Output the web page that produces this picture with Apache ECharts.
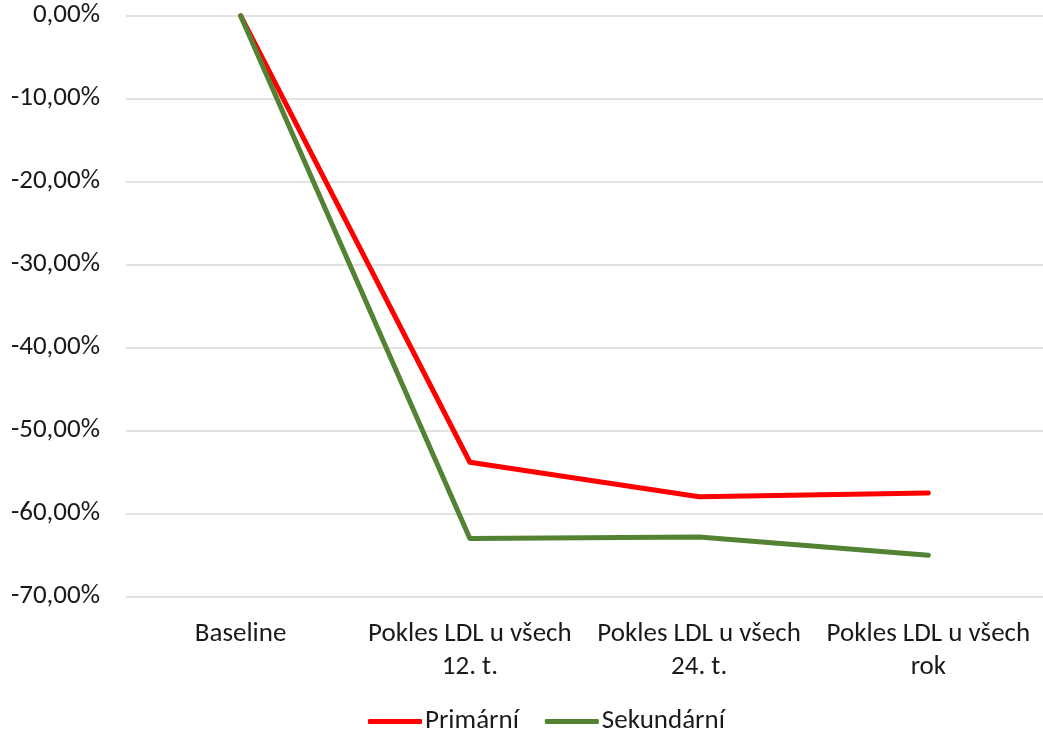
<html>
<head>
<meta charset="utf-8">
<script src="https://cdn.jsdelivr.net/npm/echarts@6/dist/echarts.min.js"></script>
</head>
<body style="margin:0">
<div id="chartmain" style="width:1043px;height:731px"></div>
<script type="text/javascript">
    // kategorie a hodnoty (v %)
    var categories = ['Baseline', 'Pokles LDL u všech\n12. t.', 'Pokles LDL u všech\n24. t.', 'Pokles LDL u všech\nrok'];
    var primarni = [0, -53.8, -57.95, -57.5];
    var sekundarni = [0, -63.0, -62.8, -65.0];
    var yTicks = [0, -10, -20, -30, -40, -50, -60, -70];

    var font = 'Carlito, "Liberation Sans Narrow", "Open Sans", sans-serif';
    var textColor = '#1a1a1a';

    var option = {
        animation: false,
        grid: { left: 126, width: 924, top: 15.7, bottom: 134.3 },
        legend: {
            top: 703,
            left: 363,
            icon: 'roundRect',
            itemWidth: 54,
            itemHeight: 5,
            itemGap: 26,
            textStyle: { fontFamily: font, fontSize: 27, color: textColor, padding: [0, 0, 0, -2] },
            data: ['Primární', 'Sekundární']
        },
        xAxis: {
            type: 'category',
            data: categories,
            boundaryGap: true,
            axisLine: { show: false },
            axisTick: { show: false },
            axisLabel: { fontFamily: font, fontSize: 27, color: textColor, lineHeight: 33, margin: 21, interval: 0 }
        },
        yAxis: {
            type: 'value',
            min: -70,
            max: 0,
            interval: 10,
            axisLine: { show: false },
            axisTick: { show: false },
            splitLine: { lineStyle: { color: '#d9d9d9', width: 1.5 } },
            axisLabel: {
                fontFamily: font, fontSize: 27, color: textColor, margin: 26,
                formatter: function (v) { return v.toFixed(2).replace('.', ',') + '%'; }
            }
        },
        series: [
            {
                name: 'Primární', type: 'line', data: primarni, showSymbol: false, symbol: 'none',
                itemStyle: { color: '#ff0000' },
                lineStyle: { color: '#ff0000', width: 5, cap: 'round', join: 'round' }
            },
            {
                name: 'Sekundární', type: 'line', data: sekundarni, showSymbol: false, symbol: 'none',
                itemStyle: { color: '#548235' },
                lineStyle: { color: '#548235', width: 5, cap: 'round', join: 'round' }
            }
        ]
    };
    var myChart = echarts.init(document.getElementById('chartmain'));
    myChart.setOption(option);
</script>
</body>
</html>
